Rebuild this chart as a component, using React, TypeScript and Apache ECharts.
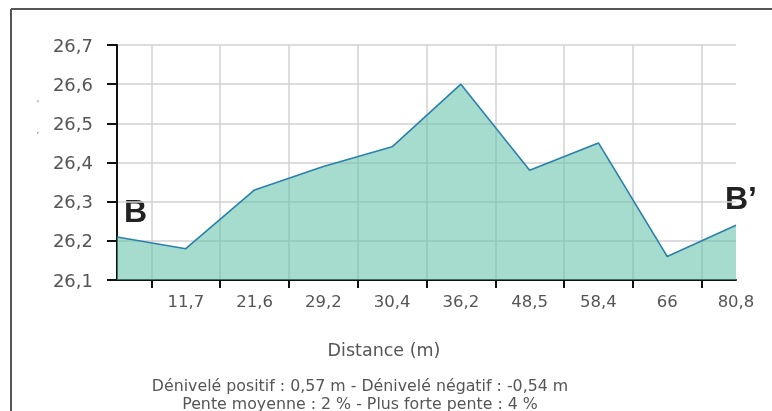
import React, { useEffect, useRef } from "react";
import * as echarts from "echarts";

const categories = ["", "11,7", "21,6", "29,2", "30,4", "36,2", "48,5", "58,4", "66", "80,8"];
const elevations = [26.21, 26.18, 26.33, 26.39, 26.44, 26.6, 26.38, 26.45, 26.16, 26.24];
const yMin = 26.1;
const yMax = 26.7;
const yStep = 0.1;
const startLabel = "B";
const endLabel = "B’";
const axisTitle = "Distance (m)";
const summaryLine1 = "Dénivelé positif : 0,57 m - Dénivelé négatif : -0,54 m";
const summaryLine2 = "Pente moyenne : 2 % - Plus forte pente : 4 %";

export default function App() {
  const ref = useRef<HTMLDivElement>(null);
  useEffect(() => {
    if (!ref.current) return;
    const chart = echarts.init(ref.current, null, { renderer: "svg" });
    const halfSteps = Array.from({ length: categories.length * 2 - 1 }, (_, i) => String(i));
    const font = "DejaVu Sans";
    chart.setOption({
      animation: false,
      grid: { left: 117, right: 36, top: 45, bottom: 131, containLabel: false },
      xAxis: [
        {
          type: "category",
          data: categories,
          boundaryGap: false,
          position: "bottom",
          axisLine: { show: true, lineStyle: { color: "#111", width: 2 } },
          axisTick: { show: false },
          splitLine: { show: false },
          axisLabel: { color: "#555", fontFamily: font, fontSize: 16.5, margin: 13, interval: 0 },
        },
        {
          type: "category",
          data: halfSteps,
          boundaryGap: false,
          position: "bottom",
          axisLine: { show: false },
          axisLabel: { show: false },
          axisTick: {
            show: true,
            interval: (i: number) => i % 2 === 1,
            length: 8,
            lineStyle: { color: "#111", width: 2 },
          },
          splitLine: {
            show: true,
            interval: (i: number) => i % 2 === 1,
            lineStyle: { color: "#d2d2d2", width: 1.5 },
          },
        },
      ],
      yAxis: {
        type: "value",
        min: yMin,
        max: yMax,
        interval: yStep,
        axisLine: { show: true, lineStyle: { color: "#111", width: 2 } },
        axisTick: { show: true, length: 10, lineStyle: { color: "#111", width: 2 } },
        splitLine: { show: true, lineStyle: { color: "#d2d2d2", width: 1.5 } },
        axisLabel: {
          color: "#555",
          fontFamily: font,
          fontSize: 18,
          margin: 24,
          formatter: (v: number) => v.toFixed(1).replace(".", ","),
        },
      },
      series: [
        {
          type: "line",
          data: elevations,
          xAxisIndex: 0,
          symbol: "none",
          lineStyle: { color: "#2a80ad", width: 1.6 },
          areaStyle: { color: "#5dbfa6", opacity: 0.55 },
        },
      ],
      graphic: [
        { type: "line", shape: { x1: 11, y1: 9, x2: 772, y2: 9 }, style: { stroke: "#555", lineWidth: 2 } },
        { type: "line", shape: { x1: 11, y1: 9, x2: 11, y2: 411 }, style: { stroke: "#555", lineWidth: 2 } },
        {
          type: "text",
          left: 124,
          top: 195,
          style: { text: startLabel, fontFamily: "Liberation Sans", fontWeight: "bold", fontSize: 32, fill: "#222" },
        },
        {
          type: "text",
          left: 725,
          top: 182,
          style: { text: endLabel, fontFamily: "Liberation Sans", fontWeight: "bold", fontSize: 32, fill: "#222" },
        },
        {
          type: "text",
          x: 38,
          y: 104,
          style: { text: "'", fontFamily: font, fontSize: 9, fill: "#777", align: "center", verticalAlign: "middle" },
        },
        {
          type: "text",
          x: 38,
          y: 130,
          style: { text: ",", fontFamily: font, fontSize: 9, fill: "#777", align: "center", verticalAlign: "middle" },
        },
        {
          type: "text",
          x: 384,
          y: 350,
          style: { text: axisTitle, fontFamily: font, fontSize: 17.5, fill: "#555", align: "center", verticalAlign: "middle" },
        },
        {
          type: "text",
          x: 360,
          y: 385,
          style: { text: summaryLine1, fontFamily: font, fontSize: 15.8, fill: "#555", align: "center", verticalAlign: "middle" },
        },
        {
          type: "text",
          x: 360,
          y: 403,
          style: { text: summaryLine2, fontFamily: font, fontSize: 15.8, fill: "#555", align: "center", verticalAlign: "middle" },
        },
      ],
    });
    return () => chart.dispose();
  }, []);
  return <div ref={ref} style={{ width: 772, height: 411, position: "fixed", left: 0, top: 0 }} />;
}
